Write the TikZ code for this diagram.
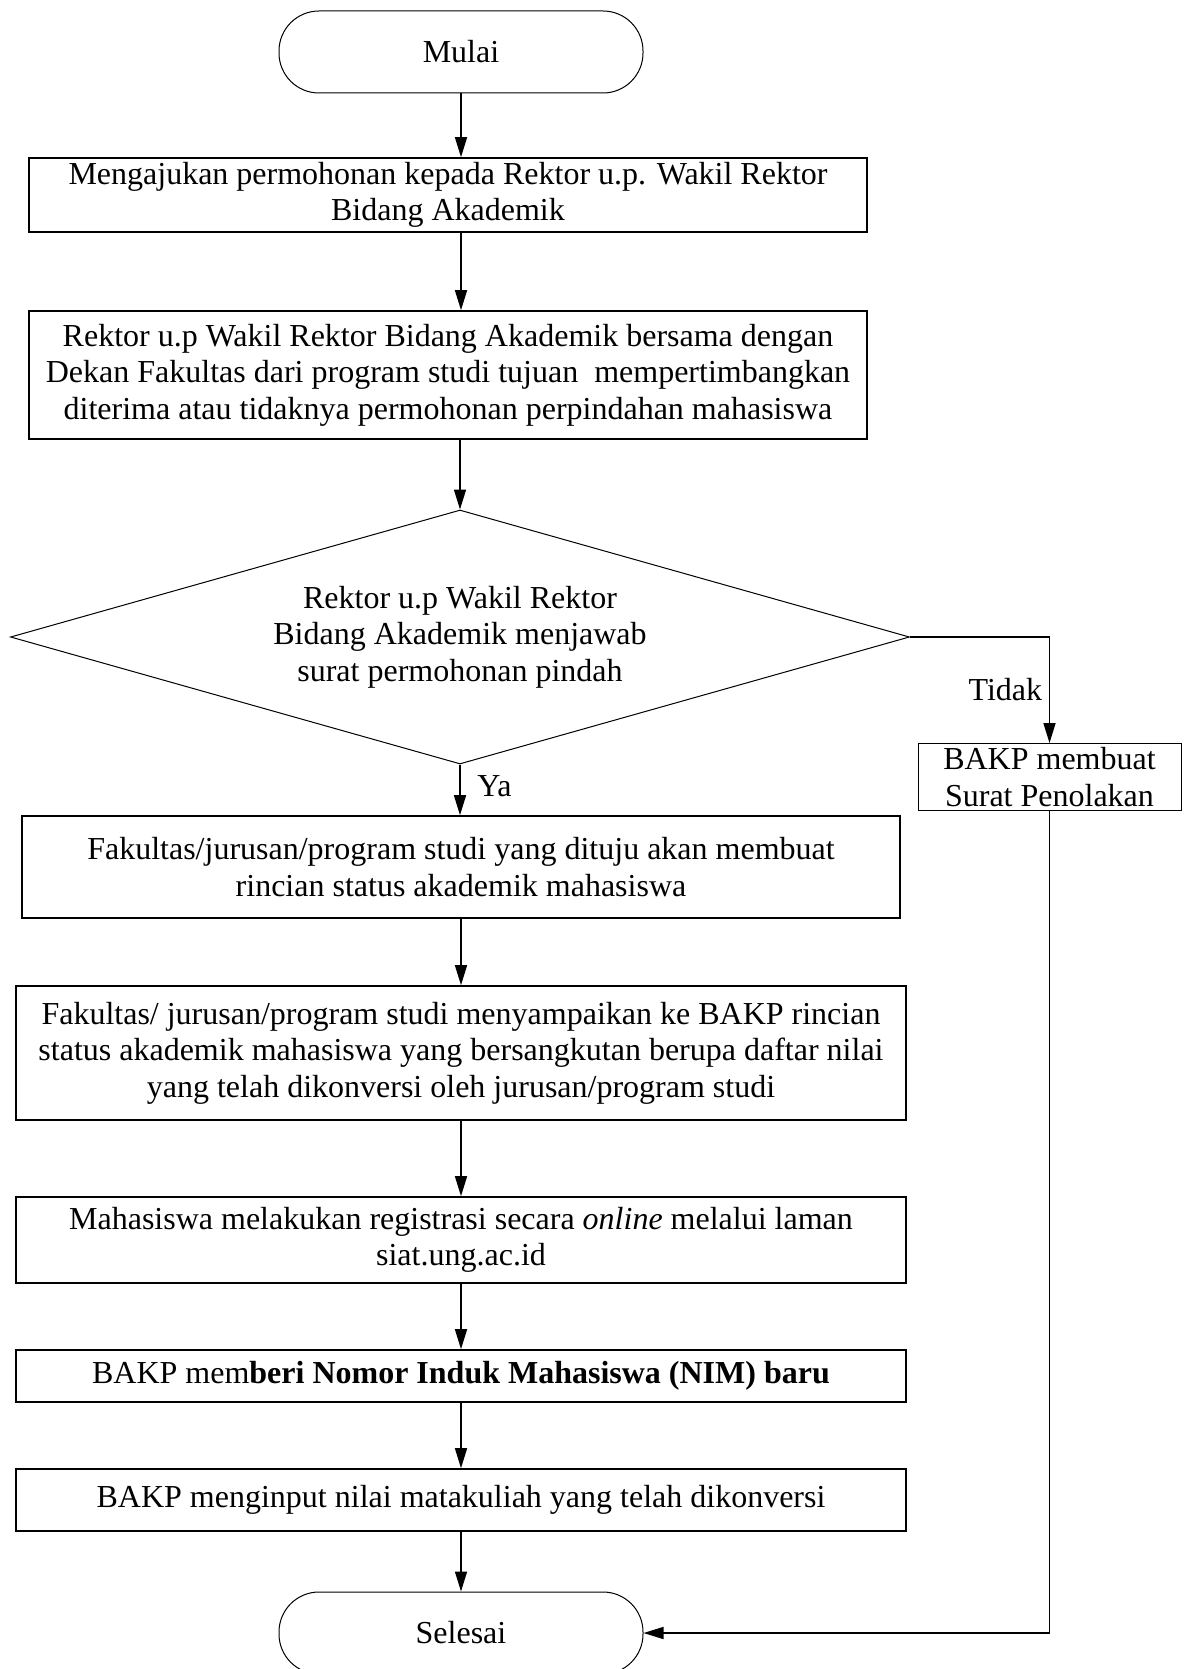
\documentclass[tikz,border=0pt]{standalone}
\usepackage{fontspec}
\setmainfont{Liberation Serif}
\usepackage{tikz}
\usetikzlibrary{shapes.geometric, arrows.meta}

\begin{document}
\begin{tikzpicture}[node distance=90pt, font=\fontsize{16}{18.2}\selectfont]
        \tikzstyle{startstop} = [rectangle, rounded corners=20pt, minimum width=182pt, minimum height=41pt, text centered, draw=black, line width=0.5pt]
        \tikzstyle{process} = [rectangle, minimum width=445pt, align=center, inner sep=1.5pt, draw=black, line width=0.8pt]
        \tikzstyle{decision} = [diamond, aspect=3.54, minimum width=449.5pt, minimum height=127pt, inner sep=0pt, align=center, draw=black, line width=0.5pt]
        \tikzstyle{arrow} = [line width=0.75pt,->,>={Triangle[length=10pt,width=6pt]}]

        \useasboundingbox (0,0) rectangle (591.5pt,-834.5pt);

        \node (mulai) [startstop] at (230.5pt,-26pt) {Mulai};
        \node (ajukan) [process, below of=mulai, yshift=18.5pt, xshift=-6.5pt, minimum width=419pt, minimum height=37pt] {Mengajukan permohonan kepada Rektor u.p. Wakil Rektor\\Bidang Akademik};
        \node (timbang) [process, below of=ajukan, minimum width=419pt, minimum height=64pt] {Rektor u.p Wakil Rektor Bidang Akademik bersama dengan\\Dekan Fakultas dari program studi tujuan\ \ mempertimbangkan\\diterima atau tidaknya permohonan perpindahan mahasiswa};
        \node (jawab) [decision, below of=timbang, yshift=-41pt, xshift=6pt] {Rektor u.p Wakil Rektor\\Bidang Akademik menjawab\\surat permohonan pindah};
        \node (tolak) [process, right of=jawab, xshift=204.75pt, yshift=-70pt, minimum width=131.5pt, minimum height=33pt, inner xsep=0pt, inner ysep=2pt, line width=0.5pt] {BAKP membuat\\Surat Penolakan};
        \node (rincian) [process, below of=jawab, yshift=-25pt, xshift=0.5pt, minimum width=439pt, minimum height=51pt] {Fakultas/jurusan/program studi yang dituju akan membuat\\rincian status akademik mahasiswa};
        \node (sampaikan) [process, below of=rincian, yshift=-3pt, minimum height=67pt] {Fakultas/ jurusan/program studi menyampaikan ke BAKP rincian\\status akademik mahasiswa yang bersangkutan berupa daftar nilai\\yang telah dikonversi oleh jurusan/program studi};
        \node (registrasi) [process, below of=sampaikan, yshift=-3.5pt, minimum height=43pt] {Mahasiswa melakukan registrasi secara \textit{online} melalui laman\\siat.ung.ac.id};
        \node (nim) [process, below of=registrasi, yshift=22pt, minimum height=26pt] {BAKP mem\textbf{beri Nomor Induk Mahasiswa (NIM) baru}};
        \node (input) [process, below of=nim, yshift=28pt, minimum height=31pt] {BAKP menginput nilai matakuliah yang telah dikonversi};
        \node (selesai) [startstop, below of=input, yshift=23.5pt] {Selesai};

        \draw [arrow] (mulai) -- (mulai |- ajukan.north);
        \draw [arrow] (ajukan.south -| mulai) -- (mulai |- timbang.north);
        \draw [arrow] (timbang.south -| jawab) -- (jawab);
        \draw [arrow] (jawab) -- node[anchor=west, xshift=5pt, yshift=2pt] {Ya} (jawab |- rincian.north);
        \draw [arrow] (jawab) -| node[pos=0.75, anchor=east] {Tidak} (tolak);
        \draw [arrow] (rincian) -- (sampaikan);
        \draw [arrow] (sampaikan) -- (registrasi);
        \draw [arrow] (registrasi) -- (nim);
        \draw [arrow] (nim) -- (input);
        \draw [arrow] (input) -- (selesai);
        \draw [arrow] (tolak) |- (selesai);
    \end{tikzpicture}
\end{document}
